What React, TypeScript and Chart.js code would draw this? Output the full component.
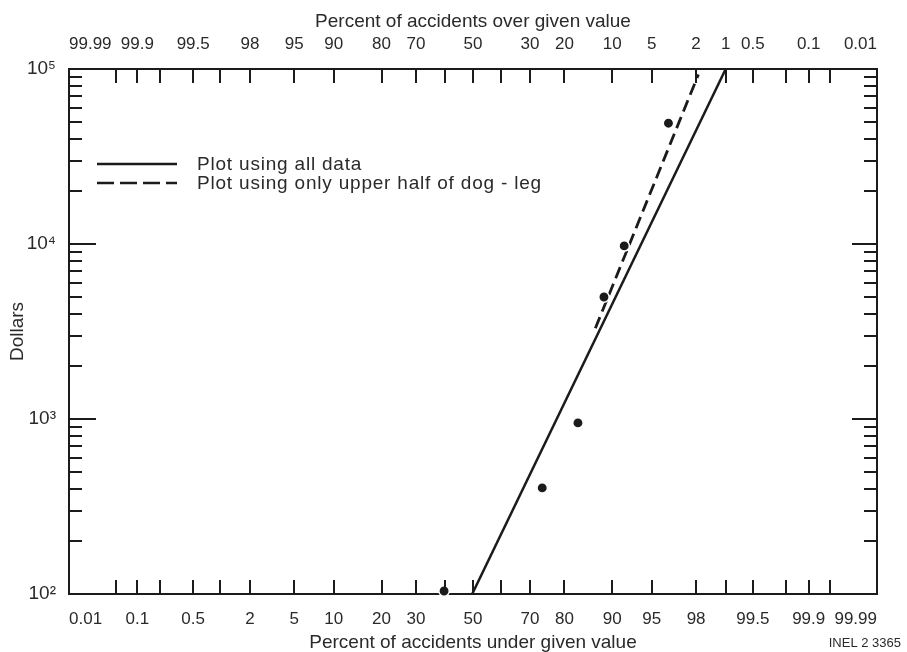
import React, { useEffect, useRef } from 'react';
import { Chart, registerables, LinearScale } from 'chart.js';

// ---------------- data ----------------
const accidentPct = [39.5, 73.8, 83.3, 88.6, 91.8, 96.4];
const accidentDollars = [104, 404, 950, 4980, 9750, 49000];

const allDataFitPct = [49.7, 99.0];
const allDataFitDollars = [100, 100000];

const upperHalfFitPct = [87.0, 98.1];
const upperHalfFitDollars = [3300, 93000];

const legendLabels = ['Plot using all data', 'Plot using only upper half of dog - leg'];

// probability axis ticks (percent)
const probTickPct = [0.01, 0.05, 0.1, 0.2, 0.5, 1, 2, 5, 10, 20, 30, 40, 50, 60, 70, 80, 90, 95, 98, 99, 99.5, 99.8, 99.9, 99.95, 99.99];
const underTickLabels = ['0.01', '', '0.1', '', '0.5', '', '2', '5', '10', '20', '30', '', '50', '', '70', '80', '90', '95', '98', '', '99.5', '', '99.9', '', '99.99'];
const overTickLabels = ['0.01', '', '0.1', '', '0.5', '1', '2', '5', '10', '20', '30', '', '50', '', '70', '80', '90', '95', '98', '', '99.5', '', '99.9', '', '99.99'];

// dollar axis ticks
const dollarMajor = [100, 1000, 10000, 100000];
const dollarMajorLabels = ['10²', '10³', '10⁴', '10⁵'];
const dollarMinorMultipliers = [2, 3, 4, 5, 6, 7, 8, 9];
const dollarDecades = [100, 1000, 10000];

const underTitle = 'Percent of accidents under given value';
const overTitle = 'Percent of accidents over given value';
const yTitle = 'Dollars';
const figureId = 'INEL 2 3365';

// ---------------- styles ----------------
const INK = '#1b1b1b';
const TEXT = '#2a2a2a';
const FAMILY = '"Liberation Sans", Arial, Helvetica, sans-serif';

// inverse standard normal CDF (Acklam) – used by the probability scale
function probit(p: number): number {
  const a = [-3.969683028665376e1, 2.209460984245205e2, -2.759285104469687e2, 1.38357751867269e2, -3.066479806614716e1, 2.506628277459239];
  const b = [-5.447609879822406e1, 1.615858368580409e2, -1.556989798598866e2, 6.680131188771972e1, -1.328068155288572e1];
  const c = [-7.784894002430293e-3, -3.223964580411365e-1, -2.400758277161838, -2.549732539343734, 4.374664141464968, 2.938163982698783];
  const d = [7.784695709041462e-3, 3.224671290700398e-1, 2.445134137142996, 3.754408661907416];
  const pl = 0.02425;
  if (p < pl) {
    const q = Math.sqrt(-2 * Math.log(p));
    return (((((c[0] * q + c[1]) * q + c[2]) * q + c[3]) * q + c[4]) * q + c[5]) / ((((d[0] * q + d[1]) * q + d[2]) * q + d[3]) * q + 1);
  }
  if (p <= 1 - pl) {
    const q = p - 0.5;
    const r = q * q;
    return ((((((a[0] * r + a[1]) * r + a[2]) * r + a[3]) * r + a[4]) * r + a[5]) * q) / (((((b[0] * r + b[1]) * r + b[2]) * r + b[3]) * r + b[4]) * r + 1);
  }
  const q = Math.sqrt(-2 * Math.log(1 - p));
  return -(((((c[0] * q + c[1]) * q + c[2]) * q + c[3]) * q + c[4]) * q + c[5]) / ((((d[0] * q + d[1]) * q + d[2]) * q + d[3]) * q + 1);
}

class ProbitScale extends LinearScale {
  static id = 'probit';
  static defaults = {};
  determineDataLimits() {
    const o: any = this.options;
    this.min = o.min ?? 0.01;
    this.max = o.max ?? 99.99;
  }
  buildTicks() {
    const o: any = this.options;
    return (o.tickValues || []).map((v: number) => ({ value: v }));
  }
  getPixelForValue(value: number) {
    if (value === null || value === undefined || isNaN(value)) return NaN;
    const z0 = probit(this.min / 100);
    const z1 = probit(this.max / 100);
    return this.getPixelForDecimal((probit(value / 100) - z0) / (z1 - z0));
  }
  getValueForPixel(pixel: number) {
    const dec = this.getDecimalForPixel(pixel);
    const z0 = probit(this.min / 100);
    const z1 = probit(this.max / 100);
    const z = z0 + dec * (z1 - z0);
    let lo = 1e-9, hi = 1 - 1e-9;
    for (let i = 0; i < 60; i++) {
      const mid = (lo + hi) / 2;
      if (probit(mid) < z) lo = mid; else hi = mid;
    }
    return ((lo + hi) / 2) * 100;
  }
}

Chart.register(...registerables, ProbitScale as any);

const innerTicksPlugin = {
  id: 'innerTicks',
  afterDraw(chart: any) {
    const { ctx, chartArea: a, scales } = chart;
    ctx.save();
    ctx.strokeStyle = INK;
    ctx.lineWidth = 2;
    const line = (x1: number, y1: number, x2: number, y2: number) => {
      ctx.beginPath();
      ctx.moveTo(x1, y1);
      ctx.lineTo(x2, y2);
      ctx.stroke();
    };
    const inner = probTickPct.slice(1, probTickPct.length - 1);
    inner.forEach((p) => {
      const xb = Math.round(scales.x.getPixelForValue(p));
      line(xb, a.bottom, xb, a.bottom - 14);
      const xt = Math.round(scales.x2.getPixelForValue(p));
      line(xt, a.top, xt, a.top + 14);
    });
    dollarDecades.forEach((dec) => {
      dollarMinorMultipliers.forEach((m) => {
        const y = Math.round(scales.y.getPixelForValue(dec * m));
        line(a.left, y, a.left + 13, y);
        line(a.right, y, a.right - 13, y);
      });
    });
    dollarMajor.slice(1, dollarMajor.length - 1).forEach((v) => {
      const y = Math.round(scales.y.getPixelForValue(v));
      line(a.left, y, a.left + 27, y);
      line(a.right, y, a.right - 25, y);
    });
    ctx.restore();
  },
};

const legendPlugin = {
  id: 'inlineLegend',
  afterDraw(chart: any) {
    const { ctx, chartArea: a } = chart;
    const rows = [
      { y: a.top + 95, dash: [] as number[], ds: 1 },
      { y: a.top + 114, dash: [17, 6], ds: 2 },
    ];
    ctx.save();
    rows.forEach((r) => {
      ctx.strokeStyle = INK;
      ctx.lineWidth = 2.5;
      ctx.setLineDash(r.dash);
      ctx.beginPath();
      ctx.moveTo(a.left + 28, r.y);
      ctx.lineTo(a.left + 108, r.y);
      ctx.stroke();
      ctx.setLineDash([]);
      ctx.fillStyle = TEXT;
      ctx.font = `19px ${FAMILY}`;
      (ctx as any).letterSpacing = '0.8px';
      ctx.textAlign = 'left';
      ctx.textBaseline = 'middle';
      ctx.fillText(chart.data.datasets[r.ds].label, a.left + 128, r.y + 1);
    });
    (ctx as any).letterSpacing = '0px';
    ctx.font = `13px ${FAMILY}`;
    ctx.textAlign = 'right';
    ctx.fillText(figureId, chart.width - 6, chart.height - 9);
    ctx.restore();
  },
};

export default function App() {
  const ref = useRef<HTMLCanvasElement | null>(null);

  useEffect(() => {
    document.body.style.margin = '0';
    const canvas = ref.current;
    if (!canvas) return;
    const tickFont = { family: FAMILY, size: 17, lineHeight: 1 };
    const titleFont = { family: FAMILY, size: 19, lineHeight: 1 };
    const border = { display: true, color: INK, width: 2 };

    const chart = new Chart(canvas, {
      type: 'scatter',
      data: {
        datasets: [
          {
            label: 'Accidents',
            data: accidentPct.map((p, i) => ({ x: p, y: accidentDollars[i] })),
            pointRadius: 5.2,
            pointBackgroundColor: INK,
            pointBorderColor: '#ffffff',
            pointBorderWidth: 1.5,
            showLine: false,
            clip: false,
          },
          {
            label: legendLabels[0],
            data: allDataFitPct.map((p, i) => ({ x: p, y: allDataFitDollars[i] })),
            showLine: true,
            borderColor: INK,
            borderWidth: 2.5,
            pointRadius: 0,
          },
          {
            label: legendLabels[1],
            data: upperHalfFitPct.map((p, i) => ({ x: p, y: upperHalfFitDollars[i] })),
            showLine: true,
            borderColor: INK,
            borderWidth: 2.8,
            borderDash: [12, 6],
            pointRadius: 0,
          },
        ],
      } as any,
      options: {
        responsive: false,
        animation: false,
        events: [],
        layout: { padding: 0 },
        plugins: { legend: { display: false }, tooltip: { enabled: false } },
        scales: {
          x: {
            type: 'probit',
            position: 'bottom',
            min: 0.01,
            max: 99.99,
            tickValues: probTickPct,
            grid: { display: false },
            border,
            ticks: {
              autoSkip: false,
              maxRotation: 0,
              minRotation: 0,
              align: 'inner',
              padding: 9,
              color: TEXT,
              font: tickFont,
              callback: (_v: any, i: number) => underTickLabels[i],
            },
            title: { display: true, text: underTitle, color: TEXT, font: titleFont, padding: { top: 0, bottom: 0 } },
            afterFit: (s: any) => { s.height = 58; },
          },
          x2: {
            type: 'probit',
            position: 'top',
            reverse: true,
            min: 0.01,
            max: 99.99,
            tickValues: probTickPct,
            grid: { display: false },
            border,
            ticks: {
              autoSkip: false,
              maxRotation: 0,
              minRotation: 0,
              align: 'inner',
              padding: 8,
              color: TEXT,
              font: tickFont,
              callback: (_v: any, i: number) => overTickLabels[i],
            },
            title: { display: true, text: overTitle, color: TEXT, font: titleFont, padding: { top: 12, bottom: 0 } },
            afterFit: (s: any) => { s.height = 69; },
          },
          y: {
            type: 'logarithmic',
            position: 'left',
            min: 100,
            max: 100000,
            grid: { display: false },
            border,
            afterBuildTicks: (s: any) => { s.ticks = dollarMajor.map((v) => ({ value: v })); },
            ticks: {
              padding: 5,
              color: TEXT,
              font: { family: FAMILY, size: 19, lineHeight: 1 },
              callback: (_v: any, i: number) => dollarMajorLabels[i],
            },
            title: { display: true, text: yTitle, color: TEXT, font: titleFont, padding: { top: 8, bottom: 0 } },
            afterFit: (s: any) => { s.width = 69; },
          },
          y2: {
            type: 'logarithmic',
            position: 'right',
            min: 100,
            max: 100000,
            grid: { display: false },
            border,
            afterBuildTicks: (s: any) => { s.ticks = dollarMajor.map((v) => ({ value: v })); },
            ticks: { display: false },
            afterFit: (s: any) => { s.width = 30; },
          },
        },
      } as any,
      plugins: [innerTicksPlugin, legendPlugin],
    });
    return () => chart.destroy();
  }, []);

  return (
    <div style={{ width: 907, height: 652, background: '#ffffff' }}>
      <canvas ref={ref} width={907} height={652} style={{ display: 'block' }} />
    </div>
  );
}
